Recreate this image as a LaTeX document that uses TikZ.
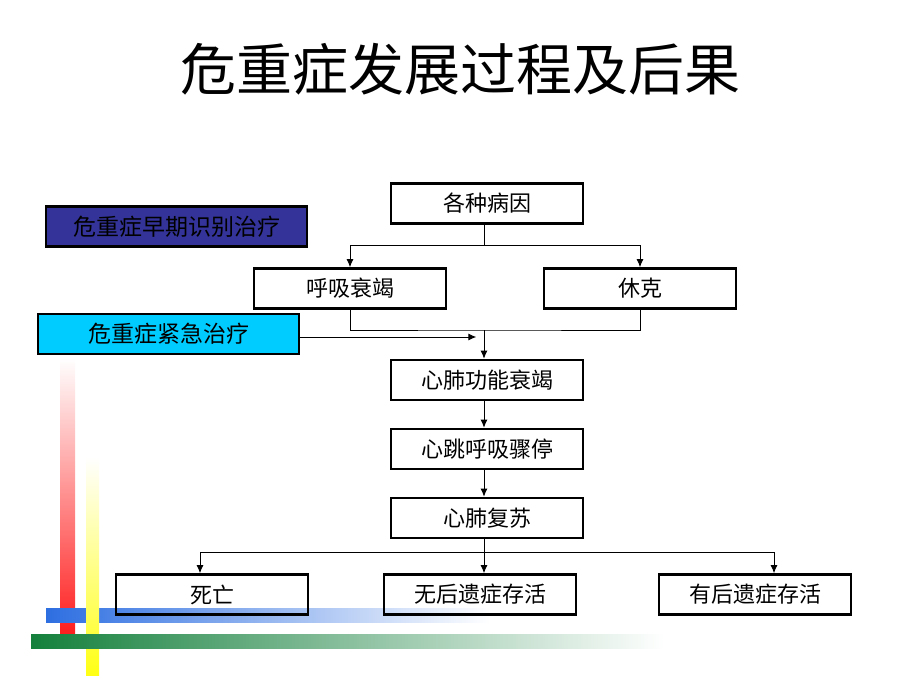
\documentclass[tikz,border=0pt]{standalone}
\usepackage{fontspec}
\newfontfamily\cjk{Noto Sans CJK SC}
\usetikzlibrary{arrows.meta,positioning,calc}

\definecolor{earlyblue}{RGB}{51,51,153}
\definecolor{urgentcyan}{RGB}{0,204,255}
\definecolor{barred}{RGB}{255,30,30}
\definecolor{barblue}{RGB}{45,110,225}
\definecolor{bargreen}{RGB}{20,128,60}
\definecolor{baryellow}{RGB}{255,255,20}

\tikzset{
  stagebox/.style={draw, line width=2.6pt, minimum width=192pt, minimum height=40pt,
    inner sep=0pt, font=\cjk\fontsize{22}{22}\selectfont},
  sidebox/.style={stagebox, minimum width=261pt, font=\cjk\fontsize{23}{23}\selectfont},
  link/.style={line width=0.9pt},
  arr/.style={link, -{Latex[length=8pt,width=7pt]}}
}

\begin{document}
\begin{tikzpicture}[x=1pt,y=-1pt]
      \useasboundingbox (0,0) rectangle (920,690);

      % decoration bars
      \shade[top color=white, bottom color=barred] (60,358) rectangle (75,634);
      \shade[left color=barblue, right color=white] (46,608) rectangle (490,622);
      \shade[top color=white, bottom color=baryellow] (86,457) rectangle (99,675);
      \shade[left color=bargreen, right color=white] (31,634) rectangle (665,648);

      \node[font=\cjk\fontsize{56}{56}\selectfont] at (460,69) (title) {危重症发展过程及后果};

      \node[stagebox] at (487,203.5) (cause) {各种病因};
      \node[stagebox] at (350,288.5) (resp) {呼吸衰竭};
      \node[stagebox] at (640,288.5) (shock) {休克};
      \node[stagebox] at (487,380) (cpfail) {心肺功能衰竭};
      \node[stagebox] at (487,449) (arrest) {心跳呼吸骤停};
      \node[stagebox] at (487,518) (cpr) {心肺复苏};

      \node[stagebox] at (212,594.5) (death) {死亡};
      \node[stagebox] at (480,594.5) (clean) {无后遗症存活};
      \node[stagebox] at (755,594.5) (sequel) {有后遗症存活};

      \node[sidebox, fill=earlyblue] at (176.5,226.5) (early) {危重症早期识别治疗};
      \node[sidebox, fill=urgentcyan] at (168.5,334) (urgent) {危重症紧急治疗};

      \coordinate (split) at (484,245);
      \coordinate (merge) at (484,330);
      \coordinate[right=176 of urgent.east, yshift=-3pt] (urgentend);
      \coordinate (fanl) at (200,552);
      \coordinate (fan) at (484,552);
      \coordinate (fanr) at (774,552);

      \draw[link] (cause.south -| split) -- (split);
      \draw[arr] (split) -| (resp.north);
      \draw[arr] (split) -| (shock.north);

      \draw[link] (resp.south) |- (merge) -| (shock.south);
      \draw[arr] (merge) -- (cpfail.north -| merge);
      \draw[arr] (urgent.east |- urgentend) -- (urgentend);

      \draw[arr] (cpfail.south -| merge) -- (arrest.north -| merge);
      \draw[arr] (arrest.south -| merge) -- (cpr.north -| merge);

      \draw[link] (cpr.south -| fan) -- (fan);
      \draw[link] (fanl) -- (fanr);
      \draw[arr] (fanl) -- (death.north -| fanl);
      \draw[arr] (fan) -- (clean.north -| fan);
      \draw[arr] (fanr) -- (sequel.north -| fanr);

\end{tikzpicture}
\end{document}
